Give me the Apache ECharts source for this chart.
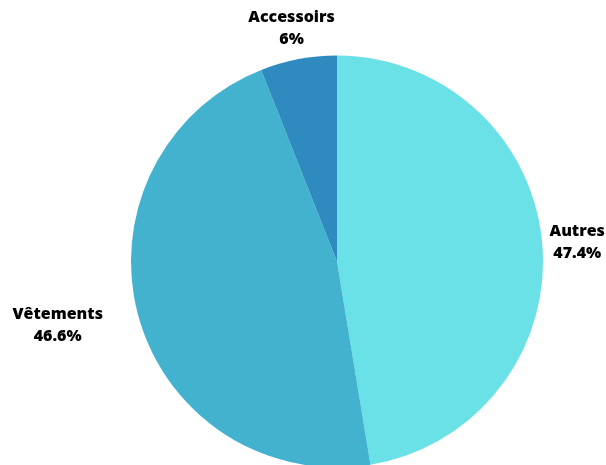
<!DOCTYPE html>
<html>
<head>
<meta charset="utf-8">
<script src="https://cdn.jsdelivr.net/npm/echarts@6/dist/echarts.min.js"></script>
<style>
  html, body { margin: 0; padding: 0; background: #fff; }
  #chart { width: 606px; height: 465px; }
</style>
</head>
<body>
<div id="chart"></div>
<script>
var categories = ['Autres', 'Vêtements', 'Accessoirs'];
var values = [47.4, 46.6, 6];
var colors = ['#6ae1e7', '#43b2cf', '#2e8abf'];

// label line lengths per slice (labels sit without visible lines)
var lineLen = [30, 34, 31];
var lineLen2 = [0, 43, 0];

var chart = echarts.init(document.getElementById('chart'));

var option = {
  animation: false,
  color: colors,
  series: [
    {
      type: 'pie',
      center: [337, 261.5],
      radius: 206,
      startAngle: 90,
      clockwise: true,
      avoidLabelOverlap: false,
      itemStyle: { borderWidth: 0 },
      label: {
        show: true,
        position: 'outside',
        formatter: function (p) {
          return p.name + '\n' + p.value + '%';
        },
        fontFamily: 'Open Sans',
        fontWeight: 800,
        fontSize: 16,
        lineHeight: 22,
        color: '#000'
      },
      labelLayout: function (p) {
        return { align: 'center', dx: p.dataIndex === 2 ? 4 : 0 };
      },
      data: categories.map(function (name, i) {
        return {
          name: name,
          value: values[i],
          labelLine: { show: false, length: lineLen[i], length2: lineLen2[i] }
        };
      })
    }
  ]
};

chart.setOption(option);
</script>
</body>
</html>
